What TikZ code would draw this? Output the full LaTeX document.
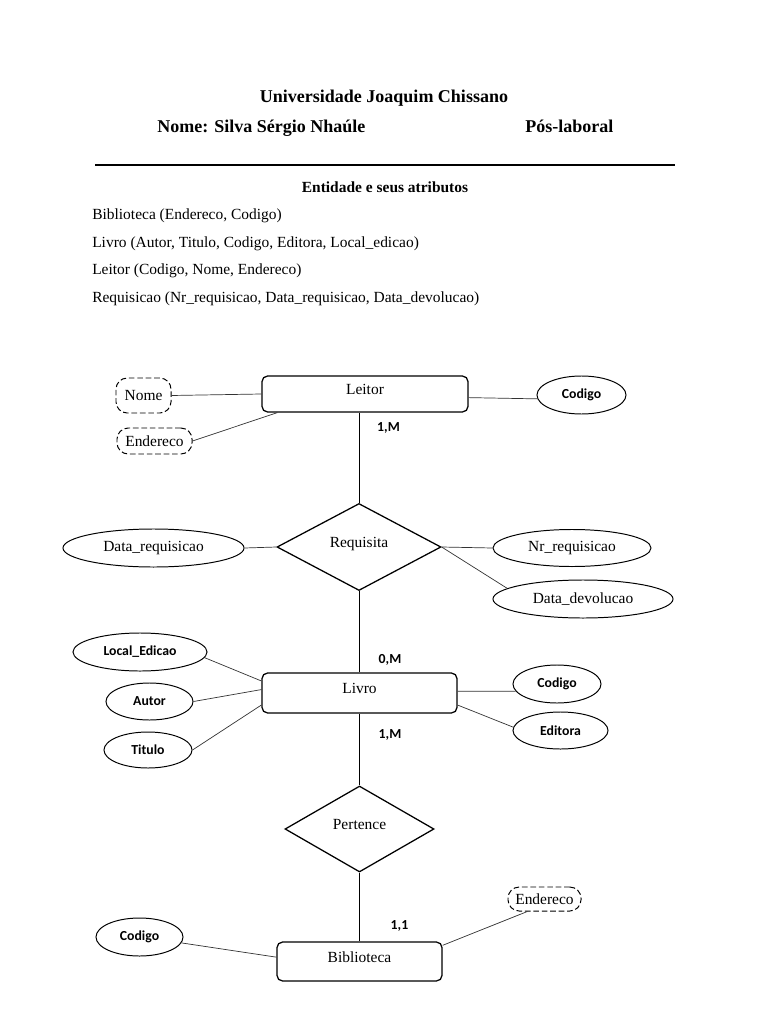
\documentclass[tikz,border=0pt]{standalone}
\usepackage{fontspec}
\setmainfont{Liberation Serif}
\newfontfamily\calibri{Carlito}
\usetikzlibrary{shapes.geometric,positioning}
\tikzset{entity/.style = {draw, fill=white, line width=0.9pt, rectangle, rounded corners=4pt, inner sep=0pt, text depth=6pt, font=\fontsize{11}{13}\selectfont},
         rel/.style = {draw, fill=white, line width=0.9pt, diamond, inner sep=0pt, text depth=6pt, font=\fontsize{11}{13}\selectfont},
         attr/.style = {draw, ellipse, line width=0.7pt, inner sep=0pt, font=\calibri\bfseries\fontsize{9.8}{12}\selectfont},
         attrtx/.style = {draw, ellipse, line width=0.7pt, inner sep=0pt, font=\fontsize{11}{13}\selectfont},
         dashattr/.style = {draw, dash pattern=on 4pt off 2pt, line width=0.7pt, rounded corners=8pt, inner sep=0pt, font=\fontsize{11}{13}\selectfont},
         card/.style = {font=\calibri\bfseries\fontsize{9.8}{12}\selectfont},
         link/.style = {draw=black!80, line width=0.5pt},
         rline/.style = {draw, line width=0.7pt},
         head/.style = {anchor=base, inner sep=0pt, font=\bfseries\fontsize{12.8}{15}\selectfont},
         body/.style = {anchor=base west, inner sep=0pt, font=\fontsize{11}{13}\selectfont}}

\begin{document}
\begin{tikzpicture}[x=0.025cm, y=-0.025cm]
        \useasboundingbox (0,0) rectangle (768,1024);

        \node[head] (uni) at (384,103) {Universidade Joaquim Chissano};
        \node[head, anchor=base west] (aluno) at (157,133) {Nome: Silva Sérgio Nhaúle};
        \node[head, anchor=base west] (turno) at (525,133) {Pós-laboral};
        \draw[line width=0.8pt] (95,165) -- (675,165);
        \node[anchor=base, inner sep=0pt, font=\bfseries\fontsize{11}{13}\selectfont] (sub) at (385,193) {Entidade e seus atributos};
        \node[body] (lst1) at (92,220) {Biblioteca (Endereco, Codigo)};
        \node[body] (lst2) at (92,247.5) {Livro (Autor, Titulo, Codigo, Editora, Local\_edicao)};
        \node[body] (lst3) at (92,275) {Leitor (Codigo, Nome, Endereco)};
        \node[body] (lst4) at (92,302) {Requisicao (Nr\_requisicao, Data\_requisicao, Data\_devolucao)};

        \node[entity, minimum width=5.15cm, minimum height=0.9cm] (leitor) at (365,394) {Leitor};
        \node[entity, minimum width=4.875cm, minimum height=1cm] (livro) at (359.5,693) {Livro};
        \node[entity, minimum width=4.125cm, minimum height=0.975cm] (biblio) at (359.5,961.5) {Biblioteca};
        \node[rel, minimum width=4.1cm, minimum height=2.175cm] (requisita) at (359,547) {Requisita};
        \node[rel, minimum width=3.725cm, minimum height=2.15cm] (pertence) at (359.5,829) {Pertence};

        \node[dashattr, minimum width=1.375cm, minimum height=0.875cm] (nomeL) at (143.5,395.5) {Nome};
        \node[dashattr, minimum width=1.875cm, minimum height=0.65cm] (endL) at (154.5,441) {Endereco};
        \node[attr, minimum width=2.225cm, minimum height=0.95cm] (codL) at (581.5,395) {Codigo};
        \node[attrtx, minimum width=4.525cm, minimum height=0.95cm] (datareq) at (153.5,548) {Data\_requisicao};
        \node[attrtx, minimum width=3.95cm, minimum height=0.925cm] (nrreq) at (572,548) {Nr\_requisicao};
        \node[attrtx, minimum width=4.5cm, minimum height=0.95cm] (datadev) at (583,599) {Data\_devolucao};
        \node[attr, minimum width=3.35cm, minimum height=0.95cm] (local) at (140,652) {Local\_Edicao};
        \node[attr, minimum width=2.175cm, minimum height=0.925cm] (autor) at (149.5,701.5) {Autor};
        \node[attr, minimum width=2.2cm, minimum height=0.9cm] (titulo) at (148,750) {Titulo};
        \node[attr, minimum width=2.2cm, minimum height=0.95cm] (codV) at (557,684) {Codigo};
        \node[attr, minimum width=2.375cm, minimum height=0.925cm] (editora) at (560.5,730.5) {Editora};
        \node[attr, minimum width=2.175cm, minimum height=0.95cm] (codB) at (139.5,937) {Codigo};
        \node[dashattr, minimum width=1.825cm, minimum height=0.6cm] (endB) at (544.5,899) {Endereco};

        \node[card] (c1) at (388.5,427.5) {1,M};
        \node[card] (c2) at (390,660) {0,M};
        \node[card] (c3) at (390,735) {1,M};
        \node[card] (c4) at (399.5,926) {1,1};

        \draw[rline] (requisita.north |- leitor.south) -- (requisita.north);
        \draw[rline] (requisita.south) -- (livro.north -| requisita.south);
        \draw[rline] (livro.south -| pertence.north) -- (pertence.north);
        \draw[rline] (pertence.south) -- (biblio.north);

        \draw[link] (nomeL.east) -- (leitor.west);
        \draw[link] (endL.east) -- (leitor.-168);
        \draw[link] (leitor.-2) -- (codL.185);
        \draw[link] (datareq.east) -- (requisita.west);
        \draw[link] (requisita.east) -- (nrreq.west);
        \draw[link] (requisita.east) -- (datadev.172);
        \draw[link] (local.-5) -- (livro.173.5);
        \draw[link] (autor.east) -- (livro.178.8);
        \draw[link] (titulo.east) -- (livro.187);
        \draw[link] (livro.1.2) -- (codV.190);
        \draw[link] (livro.-7) -- (editora.176);
        \draw[link] (codB.-8) -- (biblio.177);
        \draw[link] (endB.216) -- (biblio.11);
\end{tikzpicture}
\end{document}
